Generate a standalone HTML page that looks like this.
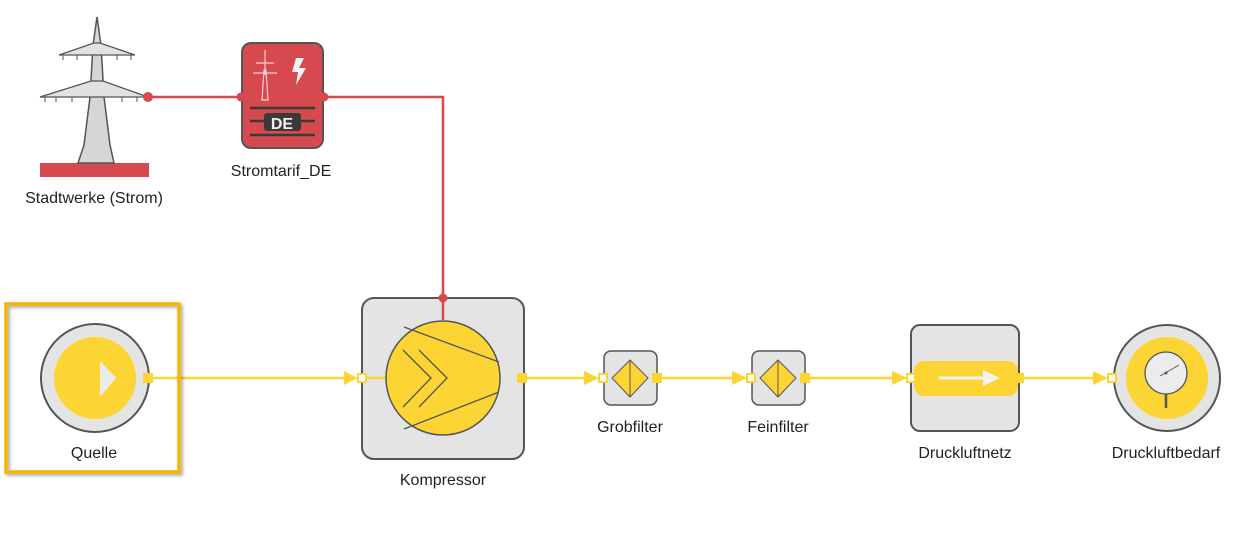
<!DOCTYPE html>
<html><head><meta charset="utf-8"><style>
html,body{margin:0;padding:0;background:#fff;}
svg{display:block;}
text{font-family:"Liberation Sans",Arial,sans-serif;font-size:16px;fill:#222;text-anchor:middle;}
</style></head><body>
<svg width="1257" height="534" viewBox="0 0 1257 534" xmlns="http://www.w3.org/2000/svg">
<defs>
<filter id="sh" x="-10%" y="-10%" width="130%" height="130%"><feDropShadow dx="2" dy="2" stdDeviation="1.5" flood-color="#000" flood-opacity="0.35"/></filter>
</defs>
<polyline points="148,97 241,97" fill="none" stroke="#d64a4f" stroke-width="2.5"/>
<polyline points="324,97 443,97 443,298" fill="none" stroke="#d64a4f" stroke-width="2.5"/>

<rect x="40" y="163" width="109" height="14" fill="#d64a4f"/>
<path d="M97,17 L101,45 L104,97 L110,145 L114,163 L78,163 L84,145 L90,97 L93,45 Z" fill="#d6d6d6" stroke="#555" stroke-width="1.5"/>
<path d="M59,55 L135,55 L100,43 L94,43 Z" fill="#e2e2e2" stroke="#555" stroke-width="1.3"/>
<path d="M40,97 L148,97 L103,81 L91,81 Z" fill="#e2e2e2" stroke="#555" stroke-width="1.3"/>
<g stroke="#555" stroke-width="1">
<line x1="63" y1="55" x2="63" y2="60"/><line x1="77" y1="55" x2="77" y2="60"/><line x1="117" y1="55" x2="117" y2="60"/><line x1="131" y1="55" x2="131" y2="60"/>
<line x1="45" y1="97" x2="45" y2="102"/><line x1="56" y1="97" x2="56" y2="102"/><line x1="72" y1="97" x2="72" y2="102"/><line x1="122" y1="97" x2="122" y2="102"/><line x1="137" y1="97" x2="137" y2="102"/>
</g>
<circle cx="148" cy="97" r="5" fill="#d64a4f"/>
<text x="94" y="203">Stadtwerke (Strom)</text>

<rect x="242" y="43" width="81" height="105" rx="9" fill="#d64a4f" stroke="#555" stroke-width="2"/>
<g stroke="#f3d0d0" stroke-width="1.2" fill="none">
<line x1="265" y1="50" x2="265" y2="75"/><path d="M262,100 L264,70 L266,70 L268,100 Z"/>
<line x1="256" y1="63" x2="274" y2="63"/><line x1="253" y1="73" x2="277" y2="73"/>
</g>
<path d="M296,58 L304,58 L299,68 L306,68 L296,85 L298,72 L292,72 Z" fill="#f4f4f4"/>
<g stroke="#3a3a3a" stroke-width="2.5">
<line x1="250" y1="108" x2="315" y2="108"/><line x1="250" y1="121" x2="315" y2="121"/><line x1="250" y1="135" x2="315" y2="135"/>
</g>
<rect x="264" y="113" width="37" height="18" rx="3" fill="#3a3a3a"/>
<text x="282" y="129" style="font-size:16px;font-weight:bold;fill:#eee">DE</text>
<circle cx="241" cy="97" r="4.5" fill="#d64a4f"/>
<circle cx="324" cy="97" r="4.5" fill="#d64a4f"/>
<text x="281" y="176">Stromtarif_DE</text>

<g stroke="#fcd535" stroke-width="2.5">
<line x1="152" y1="378" x2="348" y2="378"/>
<line x1="526" y1="378" x2="589" y2="378"/>
<line x1="661" y1="378" x2="737" y2="378"/>
<line x1="809" y1="378" x2="897" y2="378"/>
<line x1="1023" y1="378" x2="1098" y2="378"/>
</g>
<g fill="#fcd535">
<polygon points="344,371 358,378 344,385"/>
<polygon points="584,371 599,378 584,385"/>
<polygon points="732,371 747,378 732,385"/>
<polygon points="892,371 907,378 892,385"/>
<polygon points="1093,371 1108,378 1093,385"/>
</g>

<rect x="6" y="304" width="173" height="168" fill="none" stroke="#f5b400" stroke-width="3.5" filter="url(#sh)"/>
<circle cx="95" cy="378" r="54" fill="#e4e4e4" stroke="#555" stroke-width="2"/>
<circle cx="95" cy="378" r="41" fill="#fcd535"/>
<polygon points="100,361 116,378 100,397" fill="#ececec"/>
<rect x="143" y="373" width="10" height="10" fill="#fcd535"/>
<text x="94" y="458">Quelle</text>

<rect x="362" y="298" width="162" height="161" rx="12" fill="#e4e4e4" stroke="#555" stroke-width="2"/>
<circle cx="443" cy="298" r="4.5" fill="#d64a4f"/>
<line x1="443" y1="298" x2="443" y2="320" stroke="#d64a4f" stroke-width="2.5"/>
<line x1="366" y1="378" x2="390" y2="378" stroke="#fcd535" stroke-width="2.5"/>
<circle cx="443" cy="378" r="57" fill="#fcd535" stroke="#555" stroke-width="1.5"/>
<g stroke="#555" stroke-width="1.3" fill="none">
<line x1="404" y1="327" x2="499" y2="362"/><line x1="404" y1="429" x2="499" y2="392"/>
<polyline points="403,350 431,378 403,407"/><polyline points="419,350 447,378 419,407"/>
</g>
<rect x="358" y="374" width="8" height="8" fill="#fff" stroke="#fcd535" stroke-width="2"/>
<rect x="517" y="373" width="10" height="10" fill="#fcd535"/>
<text x="443" y="485">Kompressor</text>

<g>
<rect x="604" y="351" width="53" height="54" rx="7" fill="#e4e4e4" stroke="#555" stroke-width="1.5"/>
<polygon points="630,360 648,378 630,397 612,378" fill="#fcd535" stroke="#555" stroke-width="1"/>
<line x1="630" y1="360" x2="630" y2="397" stroke="#555" stroke-width="1"/>
<rect x="599" y="374" width="8" height="8" fill="#fff" stroke="#fcd535" stroke-width="2"/>
<rect x="652" y="373" width="10" height="10" fill="#fcd535"/>
<text x="630" y="432">Grobfilter</text>
</g>
<g>
<rect x="752" y="351" width="53" height="54" rx="7" fill="#e4e4e4" stroke="#555" stroke-width="1.5"/>
<polygon points="778,360 796,378 778,397 760,378" fill="#fcd535" stroke="#555" stroke-width="1"/>
<line x1="778" y1="360" x2="778" y2="397" stroke="#555" stroke-width="1"/>
<rect x="747" y="374" width="8" height="8" fill="#fff" stroke="#fcd535" stroke-width="2"/>
<rect x="800" y="373" width="10" height="10" fill="#fcd535"/>
<text x="778" y="432">Feinfilter</text>
</g>

<rect x="911" y="325" width="108" height="106" rx="9" fill="#e4e4e4" stroke="#555" stroke-width="2"/>
<rect x="914" y="361" width="104" height="35" rx="10" fill="#fcd535"/>
<line x1="939" y1="378" x2="986" y2="378" stroke="#f2f2f2" stroke-width="3"/>
<polygon points="983,370 1000,378 983,386" fill="#f2f2f2"/>
<rect x="907" y="374" width="8" height="8" fill="#fff" stroke="#fcd535" stroke-width="2"/>
<rect x="1016" y="373" width="8" height="10" fill="#fcd535"/>
<text x="965" y="458">Druckluftnetz</text>

<circle cx="1167" cy="378" r="53" fill="#e4e4e4" stroke="#555" stroke-width="2"/>
<circle cx="1167" cy="378" r="41" fill="#fcd535"/>
<line x1="1166" y1="390" x2="1166" y2="408" stroke="#555" stroke-width="2.5"/>
<circle cx="1166" cy="373" r="21" fill="#ececec" stroke="#555" stroke-width="1.3"/>
<line x1="1160" y1="376" x2="1179" y2="365" stroke="#555" stroke-width="1"/>
<circle cx="1166" cy="373" r="1.5" fill="#555"/>
<rect x="1108" y="374" width="8" height="8" fill="#fff" stroke="#fcd535" stroke-width="2"/>
<text x="1166" y="458">Druckluftbedarf</text>
</svg>
</body></html>
